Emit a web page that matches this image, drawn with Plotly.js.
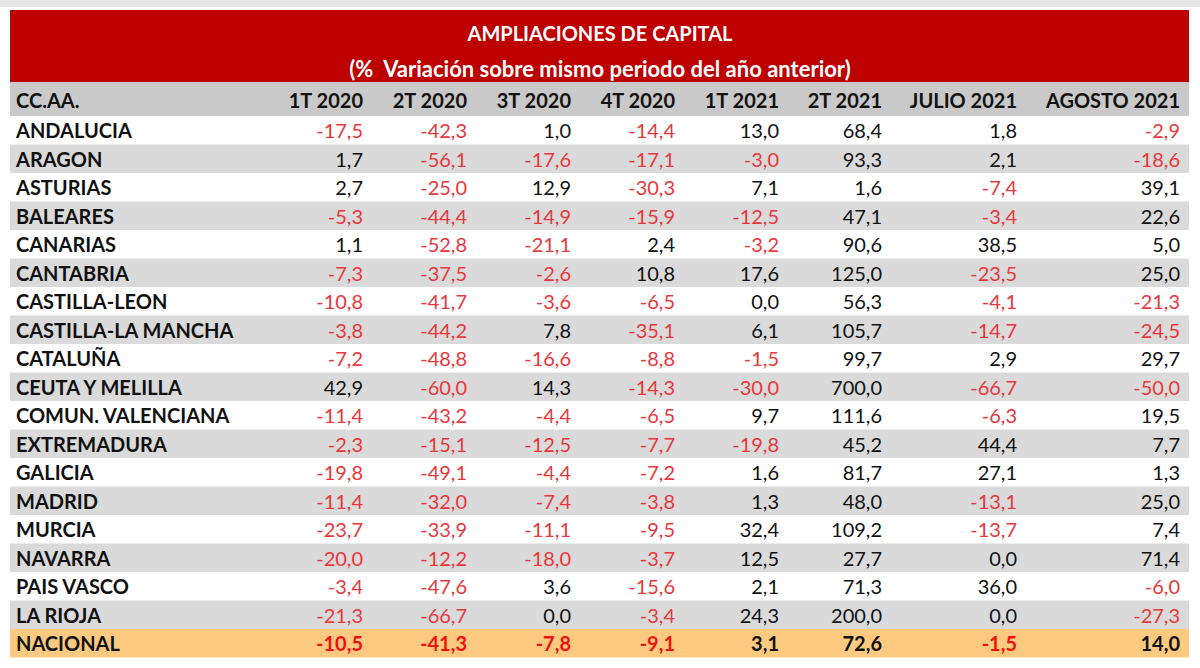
<!DOCTYPE html>
<html><head><meta charset="utf-8">
<script src="https://cdn.plot.ly/plotly-3.0.1.min.js"></script>
<style>html,body{margin:0;padding:0;background:#fff}#chart{width:1200px;height:668px}</style>
</head><body><div id="chart"></div>
<script>
const titleLine1 = "AMPLIACIONES DE CAPITAL";
const titleLine2 = "(%  Variación sobre mismo periodo del año anterior)";
const firstHeader = "CC.AA.";
const headers = ["1T 2020", "2T 2020", "3T 2020", "4T 2020", "1T 2021", "2T 2021", "JULIO 2021", "AGOSTO 2021"];
const regions = ["ANDALUCIA","ARAGON","ASTURIAS","BALEARES","CANARIAS","CANTABRIA","CASTILLA-LEON","CASTILLA-LA MANCHA","CATALUÑA","CEUTA Y MELILLA","COMUN. VALENCIANA","EXTREMADURA","GALICIA","MADRID","MURCIA","NAVARRA","PAIS VASCO","LA RIOJA","NACIONAL"];
const t1_2020 = [-17.5,1.7,2.7,-5.3,1.1,-7.3,-10.8,-3.8,-7.2,42.9,-11.4,-2.3,-19.8,-11.4,-23.7,-20.0,-3.4,-21.3,-10.5];
const t2_2020 = [-42.3,-56.1,-25.0,-44.4,-52.8,-37.5,-41.7,-44.2,-48.8,-60.0,-43.2,-15.1,-49.1,-32.0,-33.9,-12.2,-47.6,-66.7,-41.3];
const t3_2020 = [1.0,-17.6,12.9,-14.9,-21.1,-2.6,-3.6,7.8,-16.6,14.3,-4.4,-12.5,-4.4,-7.4,-11.1,-18.0,3.6,0.0,-7.8];
const t4_2020 = [-14.4,-17.1,-30.3,-15.9,2.4,10.8,-6.5,-35.1,-8.8,-14.3,-6.5,-7.7,-7.2,-3.8,-9.5,-3.7,-15.6,-3.4,-9.1];
const t1_2021 = [13.0,-3.0,7.1,-12.5,-3.2,17.6,0.0,6.1,-1.5,-30.0,9.7,-19.8,1.6,1.3,32.4,12.5,2.1,24.3,3.1];
const t2_2021 = [68.4,93.3,1.6,47.1,90.6,125.0,56.3,105.7,99.7,700.0,111.6,45.2,81.7,48.0,109.2,27.7,71.3,200.0,72.6];
const julio_2021 = [1.8,2.1,-7.4,-3.4,38.5,-23.5,-4.1,-14.7,2.9,-66.7,-6.3,44.4,27.1,-13.1,-13.7,0.0,36.0,0.0,-1.5];
const agosto_2021 = [-2.9,-18.6,39.1,22.6,5.0,25.0,-21.3,-24.5,29.7,-50.0,19.5,7.7,1.3,25.0,7.4,71.4,-6.0,-27.3,14.0];

const cols = [t1_2020,t2_2020,t3_2020,t4_2020,t1_2021,t2_2021,julio_2021,agosto_2021];

// ---- layout geometry (pixel-like axis units) ----
const W = 1200, H = 668;
const L = 10, R = 1189;          // table left/right
const titleTop = 10, titleBot = 82;
const headH = 34, rowH = 28.5;
const labelX = 16;
const colRight = [363, 467, 571, 675, 779, 882, 1017, 1180];
const textDy = 3;
const FONT = 'Lato, "Open Sans", sans-serif';

const n = regions.length, last = n - 1;
const fmt = v => v.toFixed(1).replace('.', ',');
const headCenter = titleBot + headH/2;
const rowCenters = regions.map((r,i)=> titleBot + headH + rowH*(i+0.5));
const rowText = rowCenters.map(y => y + textDy);
const rowFill = regions.map((r,i)=> i===last ? '#fdca80' : (i%2===0 ? '#ffffff' : '#dadada'));

const traces = [];
// background bars: title, header, rows
traces.push({type:'bar', orientation:'h', y:[(titleTop+titleBot)/2], x:[R-L], base:L, width:[titleBot-titleTop],
  marker:{color:'#bd0000', line:{width:0}}, hoverinfo:'skip'});
traces.push({type:'bar', orientation:'h', y:[headCenter], x:[R-L], base:L, width:[headH],
  marker:{color:'#c9c9c9', line:{width:0}}, hoverinfo:'skip'});
traces.push({type:'bar', orientation:'h', y:rowCenters, x:regions.map(()=>R-L), base:L, width:regions.map(()=>rowH),
  marker:{color:rowFill, line:{width:0}}, hoverinfo:'skip'});

// title text
traces.push({type:'scatter', mode:'text', x:[W/2], y:[33 + textDy],
  text:['<b>'+titleLine1+'</b>'], textposition:'middle center',
  textfont:{family:FONT, size:20, color:'#ffffff'}, hoverinfo:'skip'});
traces.push({type:'scatter', mode:'text', x:[W/2], y:[68 + textDy],
  text:['<b>'+titleLine2+'</b>'], textposition:'middle center',
  textfont:{family:FONT, size:22, color:'#ffffff'}, hoverinfo:'skip'});

// header row
traces.push({type:'scatter', mode:'text', x:[labelX], y:[headCenter + textDy + 1], text:['<b>'+firstHeader+'</b>'],
  textposition:'middle right', textfont:{family:FONT, size:20, color:'#111'}, hoverinfo:'skip'});
traces.push({type:'scatter', mode:'text', x:colRight, y:headers.map(()=>headCenter + textDy + 1),
  text:headers.map(h=>'<b>'+h+'</b>'), textposition:'middle left',
  textfont:{family:FONT, size:20, color:'#111'}, hoverinfo:'skip'});

// region labels
traces.push({type:'scatter', mode:'text', x:regions.map(()=>labelX), y:rowText,
  text:regions.map(r=>'<b>'+r+'</b>'), textposition:'middle right',
  textfont:{family:FONT, size:20, color:'#111'}, hoverinfo:'skip'});

// value columns
cols.forEach((c, j) => {
  traces.push({type:'scatter', mode:'text', x:c.map(()=>colRight[j]), y:rowText,
    text:c.map((v,i)=> i===last ? '<b>'+fmt(v)+'</b>' : fmt(v)), textposition:'middle left',
    textfont:{family:FONT, size:20, color:c.map((v,i)=> v < 0 ? (i===last ? '#f01212' : '#e8383c') : '#111')},
    hoverinfo:'skip'});
});

const layout = {
  width: W, height: H,
  margin: {l:0, r:0, t:0, b:0},
  paper_bgcolor: '#ffffff', plot_bgcolor: '#ffffff',
  showlegend: false, barmode:'overlay',
  xaxis: {range:[0, W], visible:false, fixedrange:true},
  yaxis: {range:[H, 0], visible:false, fixedrange:true},
  shapes: [
    {type:'rect', xref:'x', yref:'y', x0:0, x1:W, y0:0, y1:7, fillcolor:'#e6e6e6', line:{width:0}, layer:'below'}
  ]
};

Plotly.newPlot('chart', traces, layout, {displayModeBar:false, staticPlot:true});
</script>
</body></html>
